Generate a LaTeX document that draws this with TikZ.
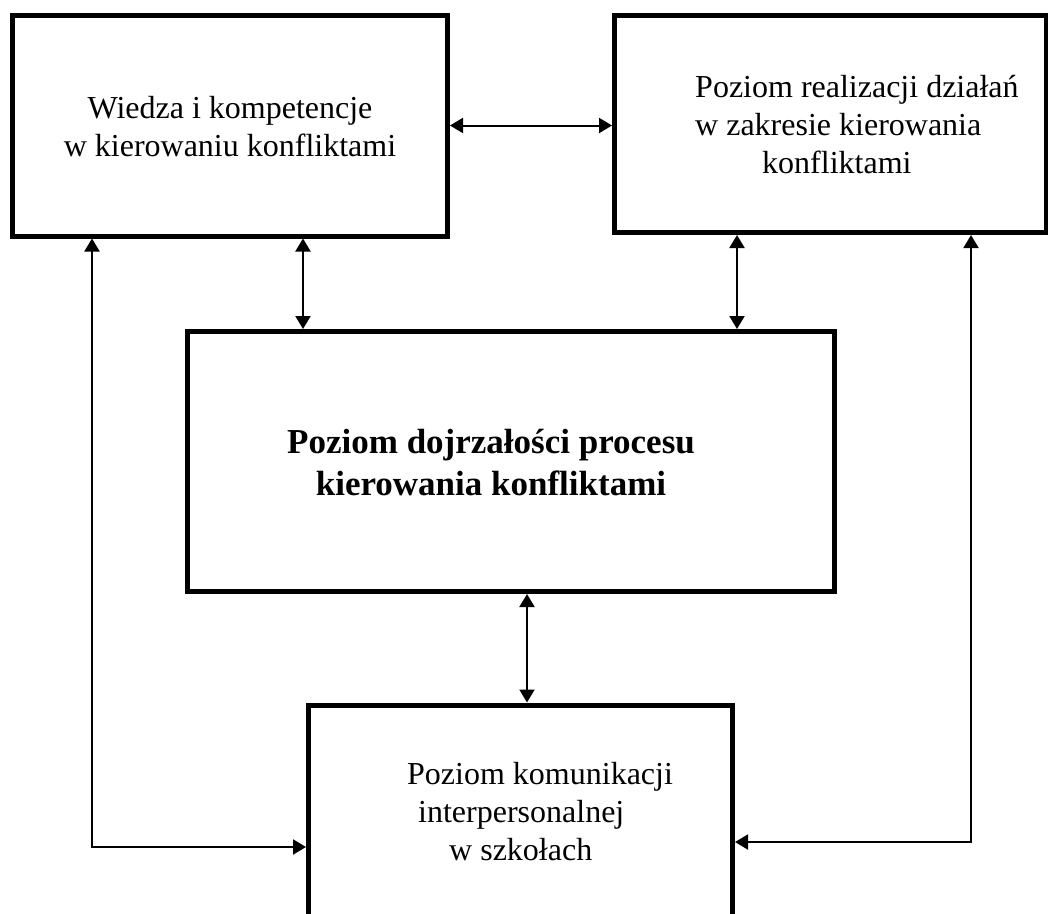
\documentclass[tikz,border=0pt]{standalone}
\usepackage{fontspec}
\setmainfont{Liberation Serif}
\usetikzlibrary{arrows.meta}
\begin{document}
\begin{tikzpicture}[x=1pt,y=-1pt,
  box/.style={draw, line width=5pt, rectangle, inner sep=0pt},
  txt/.style={inner sep=0pt, font=\fontsize{32}{38}\selectfont},
  bigtxt/.style={inner sep=0pt, align=center, font=\fontsize{35}{42}\selectfont\bfseries},
  link/.style={line width=2pt, {Triangle[length=13pt,width=15pt]}-{Triangle[length=13pt,width=15pt]}}
]
\useasboundingbox (0,0) rectangle (1048,913);
\clip (0,0) rectangle (1048,913);

% boxes
\node[box, minimum width=435pt, minimum height=221pt] (A) at (230,125.5) {};
\node[box, minimum width=432pt, minimum height=217.5pt] (B) at (830.5,123.75) {};
\node[box, minimum width=647pt, minimum height=260pt] (C) at (511,461.5) {};
\node[box, minimum width=424pt, minimum height=295pt] (D) at (520.5,852.5) {};

% texts (base anchor sits on the last line)
\node[txt, align=center, anchor=base] (tA) at (230,156)
  {Wiedza i kompetencje\\w kierowaniu konfliktami};
\node[txt, align=left, anchor=base west] (tB) at (695,173)
  {Poziom realizacji działań\\w zakresie kierowania\\\hspace*{67pt}konfliktami};
\node[bigtxt, anchor=base] (tC) at (491,495)
  {Poziom dojrzałości procesu\\kierowania konfliktami};
\node[txt, align=left, anchor=base west] (tD) at (407,860)
  {Poziom komunikacji\\\hspace*{11pt}interpersonalnej\\\hspace*{42pt}w szkołach};

% helper positions for the connectors
\coordinate (xAC) at (303,0);
\coordinate (xBC) at (737,0);
\coordinate (xCD) at (527,0);
\coordinate (xL) at (92,0);
\coordinate (yL) at (0,847);
\coordinate (xR) at (971,0);
\coordinate (yR) at (0,842);

% connectors
\draw[link] (A.east) -- (A.east -| B.west);
\draw[link] (A.south -| xAC) -- (C.north -| xAC);
\draw[link] (B.south -| xBC) -- (C.north -| xBC);
\draw[link] (C.south -| xCD) -- (D.north -| xCD);
\draw[link] (A.south -| xL) |- (D.west |- yL);
\draw[link] (B.south -| xR) |- (D.east |- yR);
\end{tikzpicture}
\end{document}
